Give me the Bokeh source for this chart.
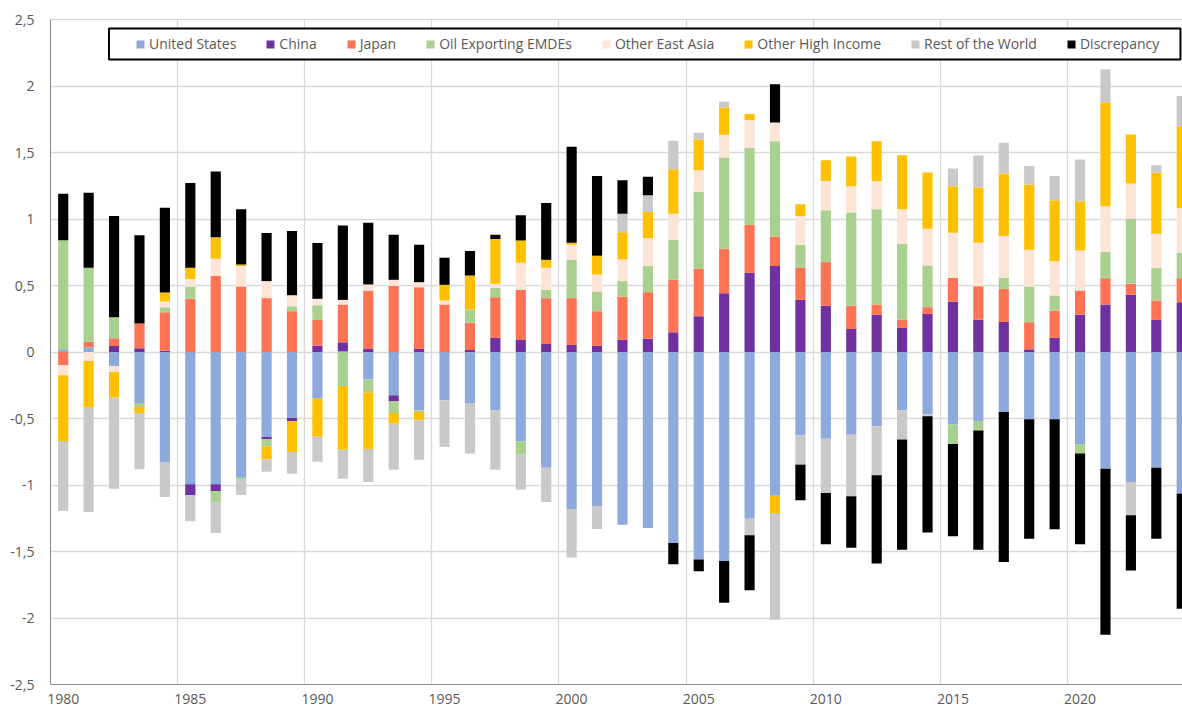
from bokeh.plotting import figure
from bokeh.models import (ColumnDataSource, FixedTicker, CustomJSTickFormatter,
                          Legend, LegendItem, Span, Range1d)
from bokeh.embed import file_html
from bokeh.resources import INLINE

years = list(range(1980, 2025))

names = ["United States", "China", "Japan", "Oil Exporting EMDEs",
         "Other East Asia", "Other High Income", "Rest of the World", "Discrepancy"]
colors = ["#8EA9DB", "#7030A0", "#FF7355", "#A9D08E",
          "#FCE4D6", "#FFC000", "#C9C9C9", "#000000"]

us = [0.015, 0.035, -0.105, -0.383, -0.827, -0.995, -0.995, -0.945, -0.639, -0.496,
      -0.351, 0.005, -0.206, -0.326, -0.439, -0.363, -0.388, -0.439, -0.672, -0.870,
      -1.180, -1.158, -1.298, -1.323, -1.436, -1.561, -1.571, -1.253, -1.080, -0.627,
      -0.652, -0.622, -0.559, -0.439, -0.469, -0.544, -0.519, -0.451, -0.506, -0.506,
      -0.692, -0.877, -0.977, -0.870, -1.065]
china = [0.0, 0.0, 0.045, 0.028, 0.010, -0.083, -0.050, 0.0, -0.018, -0.025,
         0.048, 0.068, 0.023, -0.045, 0.023, 0.0, 0.015, 0.106, 0.090, 0.060,
         0.053, 0.048, 0.093, 0.100, 0.148, 0.269, 0.442, 0.595, 0.646, 0.392,
         0.349, 0.173, 0.281, 0.181, 0.286, 0.379, 0.244, 0.226, 0.020, 0.106,
         0.281, 0.357, 0.430, 0.241, 0.374]
japan = [-0.100, 0.043, 0.058, 0.186, 0.289, 0.400, 0.573, 0.492, 0.405, 0.307,
         0.193, 0.284, 0.439, 0.497, 0.464, 0.357, 0.204, 0.306, 0.377, 0.345,
         0.352, 0.259, 0.324, 0.350, 0.395, 0.357, 0.334, 0.362, 0.223, 0.241,
         0.327, 0.176, 0.076, 0.063, 0.051, 0.179, 0.251, 0.249, 0.204, 0.206,
         0.181, 0.198, 0.083, 0.146, 0.181]
oil = [0.825, 0.555, 0.158, -0.031, 0.038, 0.092, -0.085, -0.015, -0.052, 0.037,
       0.111, -0.256, -0.097, -0.088, -0.012, 0.0, 0.100, 0.070, -0.100, 0.062,
       0.288, 0.148, 0.116, 0.196, 0.301, 0.578, 0.686, 0.578, 0.716, 0.174,
       0.389, 0.699, 0.716, 0.570, 0.314, -0.148, -0.072, 0.083, 0.268, 0.113,
       -0.072, 0.196, 0.490, 0.244, 0.191]
oea = [-0.075, -0.068, -0.045, 0.0, 0.042, 0.056, 0.128, 0.154, 0.128, 0.083,
       0.048, 0.035, 0.046, 0.046, 0.038, 0.030, 0.0, 0.031, 0.204, 0.166,
       0.114, 0.128, 0.163, 0.211, 0.196, 0.163, 0.171, 0.209, 0.141, 0.216,
       0.221, 0.198, 0.213, 0.259, 0.276, 0.339, 0.327, 0.314, 0.277, 0.258,
       0.302, 0.344, 0.263, 0.258, 0.337]
ohi = [-0.495, -0.346, -0.193, -0.045, 0.068, 0.085, 0.161, 0.012, -0.098, -0.231,
       -0.286, -0.479, -0.426, -0.080, -0.063, 0.118, 0.256, 0.336, 0.168, 0.060,
       0.015, 0.141, 0.204, 0.196, 0.334, 0.231, 0.206, 0.045, -0.131, 0.088,
       0.156, 0.224, 0.299, 0.407, 0.422, 0.349, 0.414, 0.470, 0.490, 0.458,
       0.369, 0.782, 0.370, 0.458, 0.615]
row = [-0.525, -0.789, -0.685, -0.423, -0.263, -0.195, -0.231, -0.115, -0.093, -0.163,
       -0.188, -0.218, -0.248, -0.346, -0.296, -0.351, -0.376, -0.446, -0.263, -0.258,
       -0.366, -0.173, 0.140, 0.125, 0.214, 0.050, 0.043, -0.125, -0.802, -0.220,
       -0.408, -0.463, -0.368, -0.218, -0.015, 0.133, 0.241, 0.231, 0.140, 0.183,
       0.314, 0.249, -0.251, 0.058, 0.227]
disc = [0.350, 0.565, 0.762, 0.663, 0.638, 0.638, 0.495, 0.415, 0.361, 0.483,
        0.419, 0.560, 0.464, 0.339, 0.282, 0.204, 0.184, 0.033, 0.189, 0.428,
        0.721, 0.600, 0.251, 0.139, -0.160, -0.088, -0.314, -0.414, 0.287, -0.268,
        -0.386, -0.386, -0.664, -0.829, -0.874, -0.694, -0.895, -1.128, -0.898, -0.827,
        -0.682, -1.248, -0.414, -0.534, -0.865]

yticks = [-2.5, -2.0, -1.5, -1.0, -0.5, 0.0, 0.5, 1.0, 1.5, 2.0, 2.5]
xticks = [1980, 1985, 1990, 1995, 2000, 2005, 2010, 2015, 2020]
xgrid_pos = [1984.5, 1989.5, 1994.5, 1999.5, 2004.5, 2009.5, 2014.5, 2019.5]

keys = ["us", "china", "japan", "oil", "oea", "ohi", "row", "disc"]
series = [us, china, japan, oil, oea, ohi, row, disc]

data = {"year": years}
for k, vals in zip(keys, series):
    data["p_" + k] = [max(v, 0.0) for v in vals]
    data["n_" + k] = [min(v, 0.0) for v in vals]
src = ColumnDataSource(data)

FONT = "Open Sans"
TXT = "#595959"

p = figure(width=1182, height=713, x_range=Range1d(1979.5, 2024.03),
           y_range=Range1d(-2.5, 2.5), output_backend="svg", toolbar_location=None,
           min_border_left=50, min_border_right=0, min_border_top=19, min_border_bottom=29)
p.outline_line_color = None
p.background_fill_color = "white"

pos = p.vbar_stack(["p_" + k for k in keys], x="year", width=0.4,
                   fill_color=colors, line_color=None, source=src)
neg = p.vbar_stack(["n_" + k for k in keys], x="year", width=0.4,
                   fill_color=colors, line_color=None, source=src)

p.add_layout(Span(location=2.5, dimension="width", line_color="#a6a6a6", line_width=1))

# legend frame (layout box, drawn in plot coordinates)
p.quad(left=[1981.80], right=[2023.95], top=[2.432], bottom=[2.199],
       fill_color="white", line_color="black", line_width=2)

# axes
p.yaxis.ticker = FixedTicker(ticks=yticks)
p.yaxis.formatter = CustomJSTickFormatter(code="return String(tick).replace('.', ',');")
p.xaxis.ticker = FixedTicker(ticks=xticks)
for ax in (p.xaxis, p.yaxis):
    ax.axis_line_color = "#8c8c8c"
    ax.axis_line_width = 1
    ax.major_tick_line_color = None
    ax.minor_tick_line_color = None
    ax.major_tick_out = 0
    ax.major_tick_in = 0
    ax.minor_tick_out = 0
    ax.major_label_text_font = FONT
    ax.major_label_text_font_size = "14px"
    ax.major_label_text_color = TXT
p.yaxis.major_label_standoff = 16
p.xaxis.major_label_standoff = 9

p.ygrid.ticker = FixedTicker(ticks=yticks)
p.xgrid.ticker = FixedTicker(ticks=xgrid_pos)
p.ygrid.grid_line_color = "#d9d9d9"
p.xgrid.grid_line_color = "#d9d9d9"
p.ygrid.grid_line_width = 1.3
p.xgrid.grid_line_width = 1.3

items = [LegendItem(label=n, renderers=[r]) for n, r in zip(names, pos)]
legend = Legend(items=items, orientation="horizontal", location=(85, 631),
                border_line_color=None, background_fill_alpha=0.0,
                label_text_font=FONT, label_text_font_size="14px",
                label_text_color=TXT, glyph_width=10, glyph_height=10,
                label_standoff=4, spacing=29, padding=0, margin=0)
p.add_layout(legend)

open("out.html", "w").write(file_html(p, INLINE))
